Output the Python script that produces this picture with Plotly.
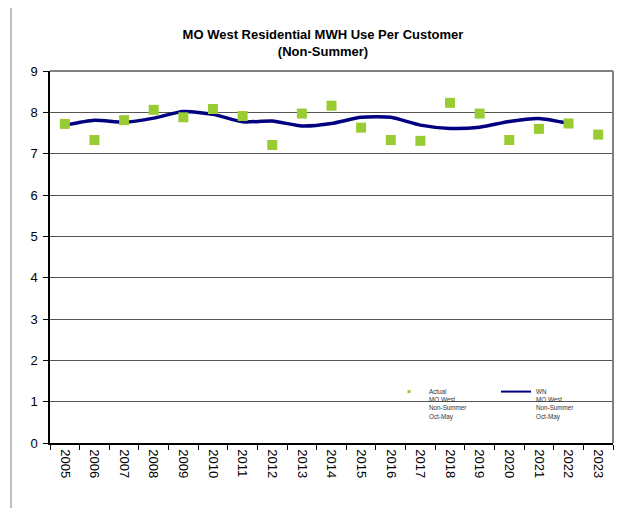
import plotly.graph_objects as go

years = [str(y) for y in range(2005, 2024)]
actual = [7.72, 7.33, 7.81, 8.06, 7.88, 8.08, 7.91, 7.21, 7.97, 8.16,
          7.63, 7.33, 7.31, 8.23, 7.97, 7.33, 7.60, 7.73, 7.46]
wn_years = years[:-1]
wn = [7.69, 7.81, 7.76, 7.86, 8.02, 7.95, 7.77, 7.79, 7.67, 7.73,
      7.88, 7.88, 7.69, 7.61, 7.64, 7.78, 7.85, 7.73]

actual_name = "Actual<br>MO West<br>Non-Summer<br>Oct-May"
wn_name = "WN<br>MO West<br>Non-Summer<br>Oct-May"
GREEN = "#99CC33"
NAVY = "#000080"

FONT = "Liberation Sans, Arial, sans-serif"

fig = go.Figure()
fig.add_trace(go.Scatter(
    x=wn_years, y=wn, mode="lines", name=wn_name, showlegend=False,
    line=dict(color=NAVY, width=3.5, shape="spline", smoothing=0.6),
))
fig.add_trace(go.Scatter(
    x=years, y=actual, mode="markers", name=actual_name, showlegend=False,
    marker=dict(symbol="square", size=10, color=GREEN),
))
# legend-only entries (styled like the reference's small legend keys)
fig.add_trace(go.Scatter(
    x=[None], y=[None], mode="markers", name=actual_name,
    marker=dict(symbol="square", size=3, color=GREEN),
))
fig.add_trace(go.Scatter(
    x=[None], y=[None], mode="lines", name=wn_name,
    line=dict(color=NAVY, width=2),
))

# page body has an 8px margin: work in viewport pixels, convert to figure pixels
OFF = 8
W, H = 630, 500
PL, PR, PT, PB = 50, 613, 71, 443  # plot area in viewport pixels
L, T = PL - OFF, PT - OFF
R, B = W - (PR - OFF), H - (PB - OFF)
pw, ph = W - L - R, H - T - B


def px(x):
    return (x - OFF - L) / pw


def py(y):
    return (H - B - (y - OFF)) / ph


shapes = [
    # outer chart box
    dict(type="line", xref="paper", yref="paper", x0=px(11), x1=px(11), y0=py(5), y1=py(530),
         line=dict(color="#808080", width=1)),
    dict(type="line", xref="paper", yref="paper", x0=px(634.5), x1=px(634.5), y0=py(0), y1=py(530),
         line=dict(color="#000000", width=2)),
    # plot area border top/right
    dict(type="line", xref="paper", yref="paper", x0=0, x1=1, y0=1, y1=1,
         line=dict(color="#808080", width=2)),
    dict(type="line", xref="paper", yref="paper", x0=1, x1=1, y0=0, y1=1,
         line=dict(color="#808080", width=2)),
]

fig.update_layout(
    width=W, height=H,
    margin=dict(l=L, r=R, t=T, b=B, autoexpand=False),
    paper_bgcolor="white", plot_bgcolor="white",
    font=dict(family=FONT, color="#000000"),
    title=dict(text="<b>MO West Residential MWH Use Per Customer<br>(Non-Summer)</b>",
               x=(323 - OFF) / W, xref="container", xanchor="center", y=1 - 31 / H, yanchor="top",
               font=dict(size=13, family=FONT, color="#000000")),
    showlegend=True,
    legend=dict(orientation="h", x=px(389), y=py(381), xanchor="left", yanchor="top",
                font=dict(size=6.3, family=FONT, color="#333333"),
                bgcolor="rgba(0,0,0,0)", valign="top", traceorder="normal",
                itemwidth=30, entrywidth=62, entrywidthmode="pixels", tracegroupgap=0),
    shapes=shapes,
    xaxis=dict(type="category", categoryorder="array", categoryarray=years,
               tickson="boundaries", ticks="outside", ticklen=5, tickcolor="#000",
               showline=True, linecolor="#000", linewidth=1.5, showgrid=False,
               tickangle=90, tickfont=dict(size=13, family=FONT, color="#000"),
               ticklabelstandoff=2,
               range=[-0.5, 18.5], automargin=False),
    yaxis=dict(range=[0, 9], dtick=1, tick0=0, ticks="outside", ticklen=5, tickcolor="#000",
               showline=True, linecolor="#000", linewidth=1.5, zeroline=False,
               showgrid=True, gridcolor="#555555", gridwidth=1, automargin=False,
               ticklabelstandoff=3,
               tickfont=dict(size=13, family=FONT, color="#000")),
)

fig.write_html("out.html")
